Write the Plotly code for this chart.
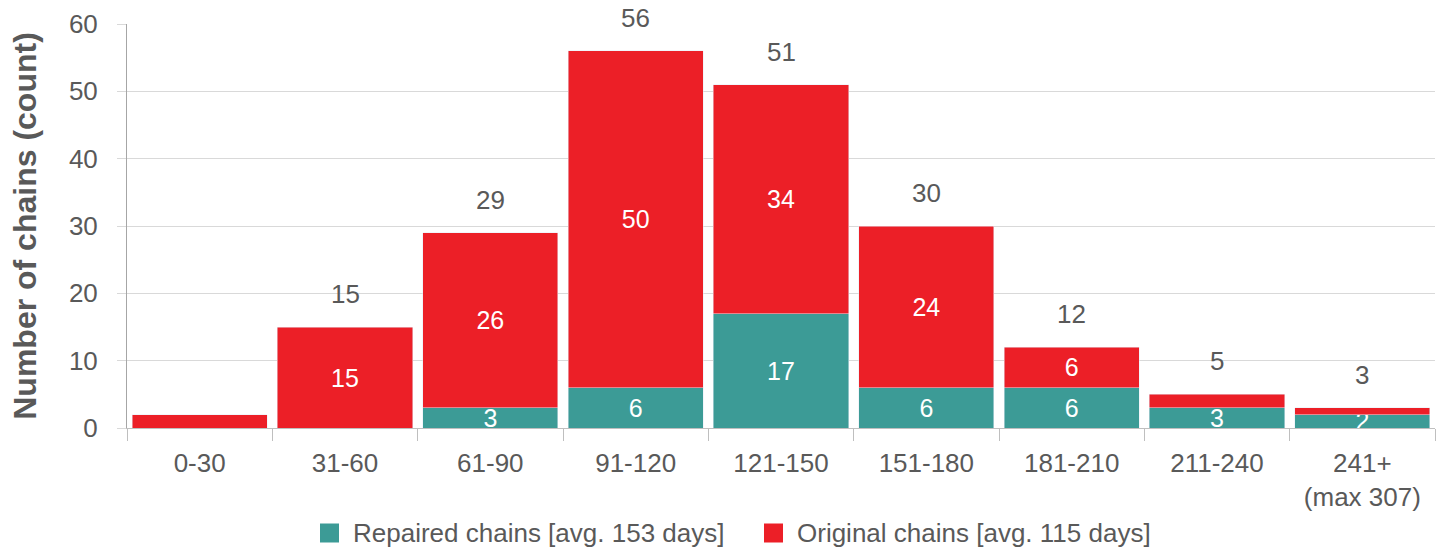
import plotly.graph_objects as go

# Chain age buckets (days) and counts per chain type
categories = ["0-30", "31-60", "61-90", "91-120", "121-150", "151-180",
              "181-210", "211-240", "241+<br>(max 307)"]
repaired = [0, 0, 3, 6, 17, 6, 6, 3, 2]
original = [2, 15, 26, 50, 34, 24, 6, 2, 1]
totals = [r + o for r, o in zip(repaired, original)]

# which labels are printed on/above the bars
show_repaired = [False, False, True, True, True, True, True, True, True]
show_original = [False, True, True, True, True, True, True, False, False]
show_total = [False, True, True, True, True, True, True, True, True]

repaired_name = "Repaired chains [avg. 153 days]"
original_name = "Original chains [avg. 115 days]"

TEAL = "#3C9B96"
RED = "#EC1F27"
GREY_TXT = "#595959"
FONT = "Liberation Sans, Arial, sans-serif"

W, H = 1442, 551
ML, MR, MT, MB = 127, 7, 24, 123
PW, PH = W - ML - MR, H - MT - MB


def px_to_paper(x, y):
    """Convert page pixel position to paper fractions of the plot area."""
    return (x - ML) / PW, (H - MB - y) / PH


fig = go.Figure()
fig.add_trace(go.Bar(
    x=categories, y=repaired, name=repaired_name, marker_color=TEAL,
    text=[str(v) if s else "" for v, s in zip(repaired, show_repaired)],
    textposition="inside", insidetextanchor="middle", textangle=0,
    textfont=dict(color="white", size=25, family=FONT),
    showlegend=False, cliponaxis=False,
))
fig.add_trace(go.Bar(
    x=categories, y=original, name=original_name, marker_color=RED,
    text=[str(v) if s else "" for v, s in zip(original, show_original)],
    textposition="inside", insidetextanchor="middle", textangle=0,
    textfont=dict(color="white", size=25, family=FONT),
    showlegend=False, cliponaxis=False,
))

# totals above each stack
for cat, tot, s in zip(categories, totals, show_total):
    if s:
        fig.add_annotation(x=cat, y=tot, text=str(tot), showarrow=False,
                           yanchor="bottom", yshift=16,
                           font=dict(size=26, color=GREY_TXT, family=FONT))

# legend row below the axis: square swatch + label for each series
legend_items = [(repaired_name, TEAL, 320), (original_name, RED, 764)]
SW = 19
legend_cy = 533
for name, color, left in legend_items:
    x0, y0 = px_to_paper(left, legend_cy + SW / 2)
    x1, y1 = px_to_paper(left + SW, legend_cy - SW / 2)
    fig.add_shape(type="rect", xref="paper", yref="paper",
                  x0=x0, x1=x1, y0=y0, y1=y1,
                  fillcolor=color, line_width=0)
    tx, ty = px_to_paper(left + SW + 12, legend_cy)
    fig.add_annotation(xref="paper", yref="paper", x=tx, y=ty, text=name,
                       showarrow=False, xanchor="left", yanchor="middle",
                       font=dict(size=26, color=GREY_TXT, family=FONT))

fig.update_layout(
    barmode="stack", bargap=0.07,
    width=W, height=H,
    margin=dict(l=ML, r=MR, t=MT, b=MB),
    plot_bgcolor="white", paper_bgcolor="white",
    font=dict(family=FONT, color=GREY_TXT, size=26),
    uniformtext=dict(minsize=25, mode="show"),
    showlegend=False,
)
fig.update_xaxes(
    type="category", tickson="boundaries", ticks="outside", ticklen=12,
    tickcolor="#BFBFBF", showline=True, linecolor="#BFBFBF",
    tickfont=dict(size=26, color=GREY_TXT), showgrid=False,
    ticklabelstandoff=12, automargin=False,
)
fig.update_yaxes(
    range=[0, 60], dtick=10, ticks="outside", ticklen=9, tickcolor="#D9D9D9",
    showgrid=True, gridcolor="#D9D9D9", zeroline=False,
    showline=True, linecolor="#A6A6A6",
    tickfont=dict(size=26, color=GREY_TXT), ticklabelstandoff=14,
    automargin=False,
    title=dict(text="<b>Number of chains (count)</b>", standoff=22,
               font=dict(size=32, color=GREY_TXT)),
)

fig.write_html("out.html")
